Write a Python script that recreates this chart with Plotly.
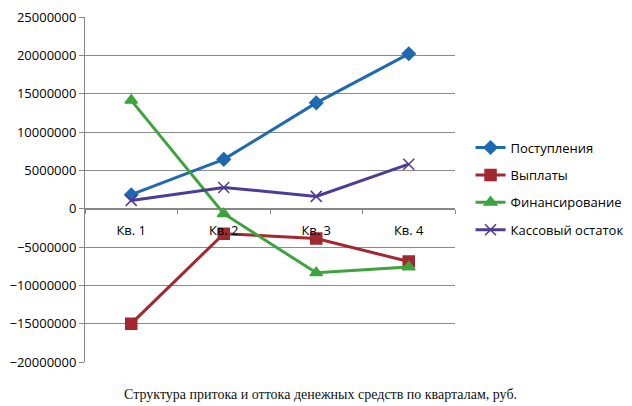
import plotly.graph_objects as go

categories = ["Кв. 1", "Кв. 2", "Кв. 3", "Кв. 4"]
postupleniya = [1820000, 6430000, 13800000, 20200000]
vyplaty = [-15000000, -3260000, -3900000, -6900000]
finansirovanie = [14130000, -650000, -8370000, -7600000]
kassovy_ostatok = [1080000, 2770000, 1600000, 5800000]

series = [
    ("Поступления", postupleniya, "#1F69B3", "diamond", 10),
    ("Выплаты", vyplaty, "#A1282E", "square", 11),
    ("Финансирование", finansirovanie, "#3DA33D", "triangle-up", 11),
    ("Кассовый остаток", kassovy_ostatok, "#4B3C98", "x-thin-open", 11),
]

fig = go.Figure()
for i, (name, vals, color, sym, size) in enumerate(series):
    fig.add_trace(go.Scatter(
        x=categories, y=vals, name=name, mode="lines+markers",
        line=dict(color=color, width=3),
        marker=dict(symbol=sym, size=size, color=color,
                    line=dict(color=color, width=1.5)),
        legendgroup=f"g{i}",
    ))

font_main = "Open Sans, Noto Sans, sans-serif"
fig.update_layout(
    width=632, height=406,
    margin=dict(l=85, r=177, t=17, b=44, autoexpand=False),
    plot_bgcolor="white", paper_bgcolor="white",
    font=dict(family=font_main, size=13, color="#000000"),
    showlegend=True,
    legend=dict(x=1.042, y=0.665, xanchor="left", yanchor="top",
                font=dict(size=13), tracegroupgap=7.5, itemwidth=30,
                bgcolor="rgba(0,0,0,0)", borderwidth=0),
    xaxis=dict(
        type="category", anchor="free", position=20/45,
        showline=True, linecolor="#868686", linewidth=1,
        ticks="outside", tickson="boundaries", ticklen=4, tickcolor="#868686",
        showgrid=False, ticklabelstandoff=10,
        tickfont=dict(size=13), range=[-0.5, 3.5],
    ),
    yaxis=dict(
        range=[-20000000, 25000000], dtick=5000000, tick0=0,
        showgrid=True, gridcolor="#8a8a8a", gridwidth=1,
        showline=True, linecolor="#868686", linewidth=1,
        ticks="outside", ticklen=5, tickcolor="#868686",
        tickformat="d", zeroline=False, tickfont=dict(size=13),
    ),
    annotations=[dict(
        text="Структура притока и оттока денежных средств по кварталам, руб.",
        xref="paper", yref="paper", x=(320-85)/370, y=-0.095,
        xanchor="center", yanchor="middle", showarrow=False,
        font=dict(family="Liberation Serif, Times New Roman, serif", size=14, color="#111"),
    )],
)

fig.write_html("out.html")
